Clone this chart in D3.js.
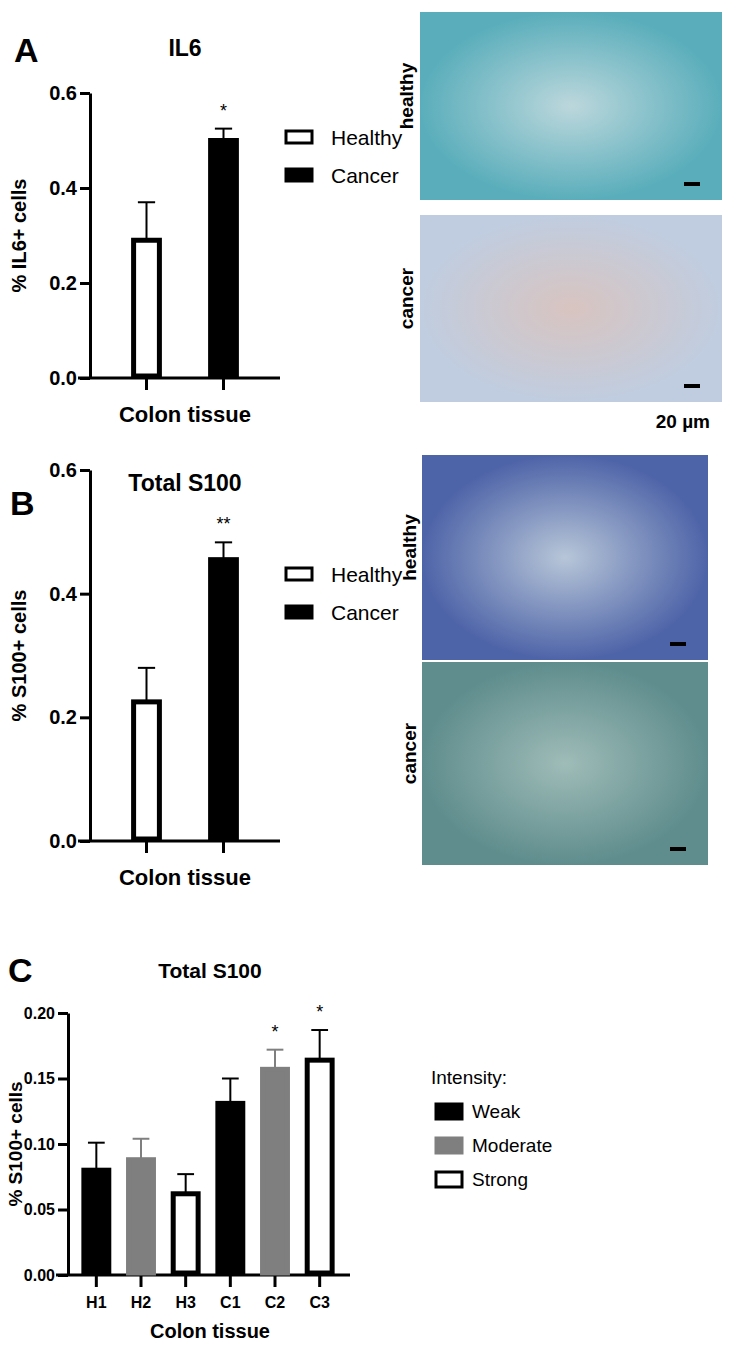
<!DOCTYPE html>
<html><head><meta charset="utf-8">
<script src="https://cdn.jsdelivr.net/npm/d3@7"></script>
<style>body{margin:0;background:#fff}svg{font-family:"Liberation Sans",Arial,sans-serif}</style>
</head><body>
<script>
// panel A / B data
let groupsAB = ["Healthy", "Cancer"];
let il6Values = [0.29, 0.50];
let il6Errors = [0.08, 0.025];
let s100Values = [0.225, 0.455];
let s100Errors = [0.055, 0.028];
let ticksAB = [0, 0.2, 0.4, 0.6];
// panel C data
let groupsC = ["H1", "H2", "H3", "C1", "C2", "C3"];
let intensityC = ["Weak", "Moderate", "Strong", "Weak", "Moderate", "Strong"];
let valuesC = [0.080, 0.088, 0.062, 0.131, 0.157, 0.164];
let errorsC = [0.021, 0.016, 0.015, 0.019, 0.015, 0.023];
let starsC = ["", "", "", "", "*", "*"];
let ticksC = [0, 0.05, 0.10, 0.15, 0.20];
let intensities = ["Weak", "Moderate", "Strong"];

let svg = d3.select("body").append("svg").attr("width", 731).attr("height", 1353);

function barPanel(o) {
    let g = svg.append("g");
    let y = d3.scaleLinear().domain([0, o.max]).range([o.y0, o.y1]);
    let x = d3.scaleBand().domain(o.cats).range([o.x0, o.x1]).paddingInner(o.pad).paddingOuter(o.pad / 2);

    g.append("g").attr("transform", "translate(" + o.ax + ",0)")
     .call(d3.axisLeft(y).tickValues(o.ticks).tickFormat(d3.format(o.fmt)).tickSize(10).tickSizeOuter(0))
     .call(a => a.select(".domain").attr("stroke-width", 3))
     .call(a => a.selectAll(".tick line").attr("stroke-width", 3))
     .call(a => a.selectAll("text").attr("font-size", o.fs).attr("font-weight", "bold").attr("fill", "#000"));

    g.append("g").attr("transform", "translate(0," + o.y0 + ")")
     .call(d3.axisBottom(x).tickSize(12).tickSizeOuter(0).tickFormat(o.xlabels ? null : ""))
     .call(a => a.select(".domain").attr("stroke-width", 3).attr("d", "M" + (o.ax - 12) + ",0H" + o.xend))
     .call(a => a.selectAll(".tick line").attr("stroke-width", 3))
     .call(a => a.selectAll("text").attr("font-size", o.fs).attr("font-weight", "bold").attr("fill", "#000").attr("dy", "1.1em"));

    let bars = g.selectAll(".bar").data(o.cats).enter().append("g");
    bars.append("line")
        .attr("x1", d => x(d) + x.bandwidth() / 2).attr("x2", d => x(d) + x.bandwidth() / 2)
        .attr("y1", (d, i) => y(o.values[i])).attr("y2", (d, i) => y(o.values[i] + o.errors[i]))
        .attr("stroke", (d, i) => o.errColor[i]).attr("stroke-width", 2);
    bars.append("line")
        .attr("x1", d => x(d) + x.bandwidth() * 0.22).attr("x2", d => x(d) + x.bandwidth() * 0.78)
        .attr("y1", (d, i) => y(o.values[i] + o.errors[i])).attr("y2", (d, i) => y(o.values[i] + o.errors[i]))
        .attr("stroke", (d, i) => o.errColor[i]).attr("stroke-width", 2);
    bars.append("rect")
        .attr("x", d => x(d) + 2.5).attr("width", x.bandwidth() - 5)
        .attr("y", (d, i) => y(o.values[i])).attr("height", (d, i) => o.y0 - y(o.values[i]) - 2)
        .attr("fill", (d, i) => o.fill[i]).attr("stroke", (d, i) => o.stroke[i]).attr("stroke-width", 5);
    bars.append("text")
        .attr("x", d => x(d) + x.bandwidth() / 2)
        .attr("y", (d, i) => y(o.values[i] + o.errors[i]) - 12)
        .attr("text-anchor", "middle").attr("font-size", 18)
        .text((d, i) => o.stars[i]);

    g.append("text").attr("x", o.tx).attr("y", o.ty).attr("text-anchor", "middle")
     .attr("font-size", o.ts).attr("font-weight", "bold").text(o.title);
    g.append("text").attr("x", o.tx).attr("y", o.y0 + o.xlOff).attr("text-anchor", "middle")
     .attr("font-size", o.ts - 1).attr("font-weight", "bold").text("Colon tissue");
    g.append("text").attr("transform", "translate(" + o.ylx + "," + ((o.y0 + o.y1) / 2) + ") rotate(-90)")
     .attr("text-anchor", "middle").attr("font-size", o.ys).attr("font-weight", "bold").text(o.ylabel);
    g.append("text").attr("x", o.lx).attr("y", o.ly).attr("font-size", 34).attr("font-weight", "bold").text(o.letter);
}

function legendAB(y0) {
    let lg = svg.append("g");
    groupsAB.forEach(function(d, i) {
        lg.append("rect").attr("x", 286).attr("y", y0 + i * 38 - 6).attr("width", 26).attr("height", 12)
          .attr("fill", i ? "#000" : "#fff").attr("stroke", "#000").attr("stroke-width", 3);
        lg.append("text").attr("x", 331).attr("y", y0 + i * 38 + 8).attr("font-size", 21).text(d);
    });
}

function micro(x, y, w, h, c1, c2, label, lx) {
    let id = "gr" + Math.round(x + y);
    let grad = svg.append("defs").append("radialGradient").attr("id", id);
    grad.append("stop").attr("offset", "0%").attr("stop-color", c1);
    grad.append("stop").attr("offset", "100%").attr("stop-color", c2);
    svg.append("rect").attr("x", x).attr("y", y).attr("width", w).attr("height", h).attr("fill", "url(#" + id + ")");
    svg.append("rect").attr("x", x + w - 38).attr("y", y + h - 18).attr("width", 16).attr("height", 4).attr("fill", "#000");
    svg.append("text").attr("transform", "translate(" + lx + "," + (y + h / 2 - 10) + ") rotate(-90)")
       .attr("text-anchor", "middle").attr("font-size", 19).attr("font-weight", "bold").text(label);
}

barPanel({cats: groupsAB, values: il6Values, errors: il6Errors, stars: ["", "*"], max: 0.6, ticks: ticksAB, fmt: ".1f",
    x0: 108, x1: 262, pad: 0.6, ax: 90, xend: 280, y0: 378, y1: 93, fs: 20, ts: 23, ys: 20,
    fill: ["#fff", "#000"], stroke: ["#000", "#000"], errColor: ["#000", "#000"],
    title: "IL6", tx: 185, ty: 56, xlOff: 44, ylabel: "% IL6+ cells", ylx: 26, letter: "A", lx: 14, ly: 62});
legendAB(137);
micro(420, 12, 302, 188, "#bcd7dc", "#5aaebb", "healthy", 413);
micro(420, 215, 302, 187, "#d8c4c0", "#c0cde0", "cancer", 413);
svg.append("text").attr("x", 710).attr("y", 428).attr("text-anchor", "end").attr("font-size", 19).attr("font-weight", "bold").text("20 µm");

barPanel({cats: groupsAB, values: s100Values, errors: s100Errors, stars: ["", "**"], max: 0.6, ticks: ticksAB, fmt: ".1f",
    x0: 108, x1: 262, pad: 0.6, ax: 90, xend: 280, y0: 841, y1: 470, fs: 20, ts: 23, ys: 20,
    fill: ["#fff", "#000"], stroke: ["#000", "#000"], errColor: ["#000", "#000"],
    title: "Total S100", tx: 185, ty: 491, xlOff: 44, ylabel: "% S100+ cells", ylx: 26, letter: "B", lx: 10, ly: 515});
legendAB(574);
micro(422, 455, 286, 205, "#b7c6d8", "#4e64a8", "healthy", 416);
micro(422, 662, 286, 203, "#9fbcb8", "#5f8d8d", "cancer", 416);

let colorC = {Weak: "#000", Moderate: "#7f7f7f", Strong: "#fff"};
barPanel({cats: groupsC, values: valuesC, errors: errorsC, stars: starsC, max: 0.2, ticks: ticksC, fmt: ".2f",
    x0: 74, x1: 342, pad: 0.33, ax: 68, xend: 350, y0: 1275, y1: 1013, fs: 16, ts: 21, ys: 19, xlabels: true,
    fill: intensityC.map(d => colorC[d]), stroke: intensityC.map(d => d === "Strong" ? "#000" : colorC[d]),
    errColor: intensityC.map(d => d === "Moderate" ? "#7f7f7f" : "#000"),
    title: "Total S100", tx: 210, ty: 978, xlOff: 63, ylabel: "% S100+ cells", ylx: 22, letter: "C", lx: 8, ly: 982});
let lc = svg.append("g");
lc.append("text").attr("x", 431).attr("y", 1084).attr("font-size", 19).text("Intensity:");
intensities.forEach(function(d, i) {
    lc.append("rect").attr("x", 436).attr("y", 1104 + i * 34).attr("width", 26).attr("height", 15)
      .attr("fill", colorC[d]).attr("stroke", d === "Strong" ? "#000" : colorC[d]).attr("stroke-width", 3);
    lc.append("text").attr("x", 472).attr("y", 1118 + i * 34).attr("font-size", 19).text(d);
});
</script>
</body></html>
